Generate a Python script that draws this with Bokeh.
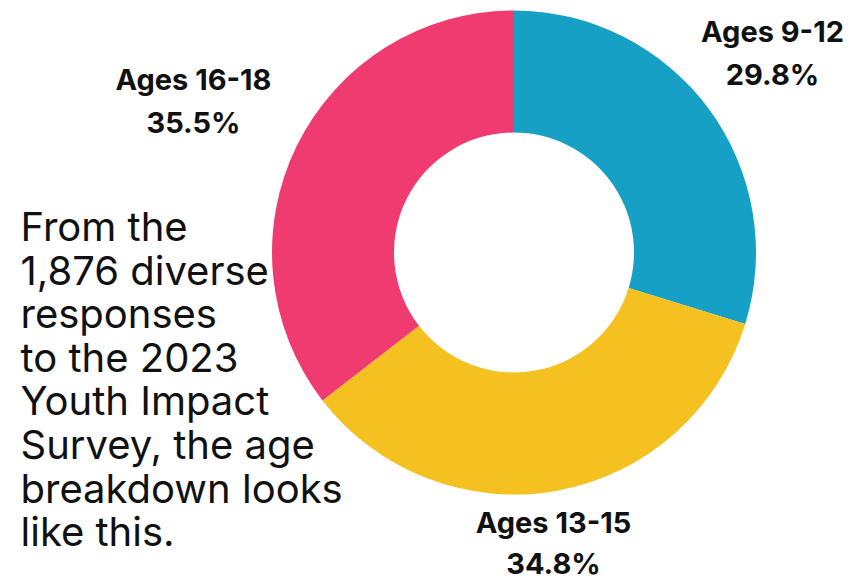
import math
from bokeh.plotting import figure
from bokeh.models import Range1d, ColumnDataSource
from bokeh.core.properties import value
from bokeh.embed import file_html
from bokeh.resources import INLINE

categories = ["Ages 9-12", "Ages 13-15", "Ages 16-18"]
percents = [29.8, 34.8, 35.5]
colors = ["#17A0C6", "#F5C120", "#EF3B6F"]
body_lines = ["From the", "1,876 diverse", "responses", "to the 2023",
              "Youth Impact", "Survey, the age", "breakdown looks", "like this."]

W, H = 851, 581
p = figure(width=W, height=H, output_backend="svg", toolbar_location=None,
           x_range=Range1d(0, W), y_range=Range1d(0, H), min_border=0)
p.axis.visible = False
p.grid.visible = False
p.outline_line_color = None
p.background_fill_color = "white"
p.border_fill_color = "white"

cx, cy = 513.5, H - 252
total = sum(percents)
starts, ends = [], []
cum = 0.0
for v in percents:
    starts.append(math.pi / 2 - 2 * math.pi * cum / total)
    cum += v
    ends.append(math.pi / 2 - 2 * math.pi * cum / total)
src = ColumnDataSource(dict(start=starts, end=ends, color=colors, cat=categories))
p.annular_wedge(x=cx, y=cy, inner_radius=120, outer_radius=242,
                start_angle="start", end_angle="end", direction="clock",
                fill_color="color", line_color=None, source=src)

# labels: (x, first-line y, second-line y) in pixels from top
lab_pos = [(772, 31, 74), (553, 522, 563), (193, 79, 122)]
lx, ly, lt = [], [], []
for (x, y1, y2), c, v in zip(lab_pos, categories, percents):
    lx += [x, x]
    ly += [H - y1, H - y2]
    lt += [c, f"{v}%"]
p.text(x=lx, y=ly, text=lt, text_font=value("Inter"), text_font_style="bold",
       text_font_size="29px", text_align="center", text_baseline="middle",
       text_color="#111111")

# body text
bx = [20] * len(body_lines)
by = [H - (226 + i * 43.6) for i in range(len(body_lines))]
p.text(x=bx, y=by, text=body_lines, text_font=value("Inter"),
       text_font_size="40px", text_align="left", text_baseline="middle",
       text_color="#111111")

open("out.html", "w").write(file_html(p, INLINE))
